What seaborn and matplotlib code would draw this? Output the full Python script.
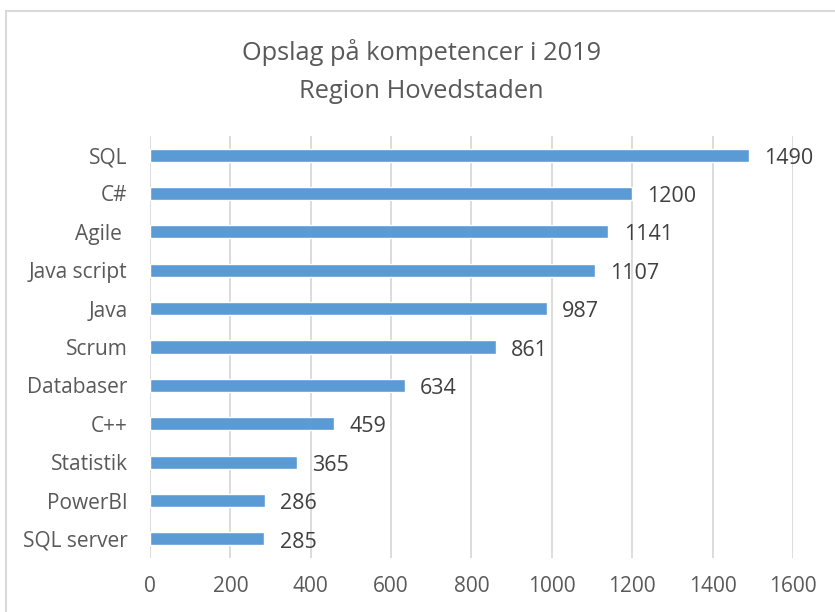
import pandas as pd
import matplotlib.pyplot as plt
import seaborn as sns
from matplotlib.lines import Line2D

# Data
skills = ['SQL', 'C#', 'Agile ', 'Java script', 'Java', 'Scrum', 'Databaser',
          'C++', 'Statistik', 'PowerBI', 'SQL server']
counts = [1490, 1200, 1141, 1107, 987, 861, 634, 459, 365, 286, 285]
xticks = [0, 200, 400, 600, 800, 1000, 1200, 1400, 1600]

df = pd.DataFrame({'Skill': skills, 'Count': counts})

sns.set_style('white')
plt.rcParams['font.family'] = ['Open Sans', 'DejaVu Sans']

fig = plt.figure(figsize=(8.35, 6.12), dpi=100)
ax = fig.add_axes([0.1796, 0.088, 0.77, 0.69])

sns.barplot(data=df, y='Skill', x='Count', color='#5B9BD5', saturation=1,
            width=0.34, orient='h', ax=ax, zorder=3)

ax.set_xlim(0, 1600)
ax.set_ylim(10.5, -0.5)
ax.set_xticks(xticks)
ax.xaxis.grid(True, color='#D9D9D9', linewidth=1.3, zorder=0)
ax.set_axisbelow(True)
for s in ax.spines.values():
    s.set_visible(False)
ax.tick_params(axis='both', length=0, labelsize=15, colors='#595959')
ax.tick_params(axis='x', pad=13)
ax.tick_params(axis='y', pad=16)
ax.set_xlabel('')
ax.set_ylabel('')

for i, v in enumerate(counts):
    ax.text(v + 38, i + 0.08, str(v), va='center', ha='left',
            fontsize=15.5, color='#404040')

fig.text(0.505, 0.915, 'Opslag på kompetencer i 2019', ha='center', va='center',
         fontsize=18.3, color='#595959')
fig.text(0.505, 0.850, 'Region Hovedstaden', ha='center', va='center',
         fontsize=18.3, color='#595959')

# chart border
fig.add_artist(Line2D([0.007, 0.007], [0, 0.982], color='#D9D9D9', linewidth=1.5))
fig.add_artist(Line2D([0.007, 1], [0.982, 0.982], color='#D9D9D9', linewidth=1.5))

plt.savefig('out.png', dpi=100)
